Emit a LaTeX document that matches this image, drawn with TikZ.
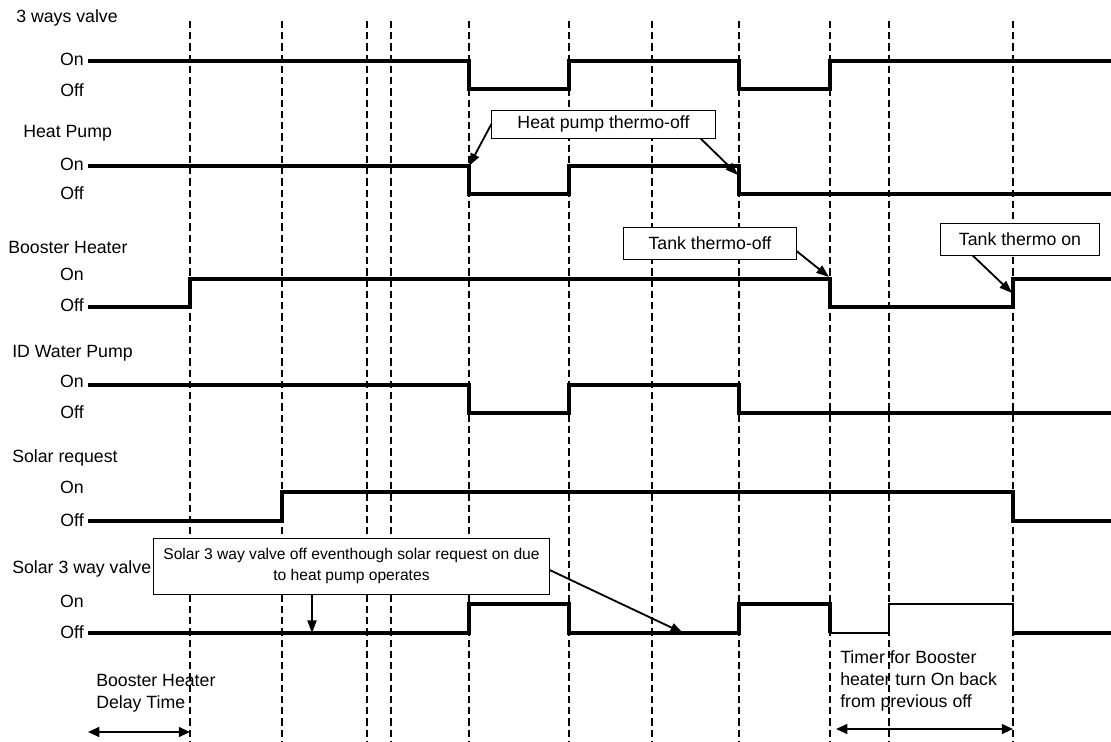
\documentclass[tikz,border=0pt]{standalone}
\usepackage{fontspec}
\setmainfont{Liberation Sans}
\usetikzlibrary{arrows.meta}

\begin{document}
\begin{tikzpicture}[
      x=0.025cm, y=-0.025cm,
      font=\fontsize{12.6}{15.5}\selectfont,
      sig/.style={line width=2.8pt},
      weaksig/.style={line width=1.5pt},
      vline/.style={dash pattern=on 5pt off 3pt, line width=0.8pt},
      title/.style={anchor=base west, inner sep=0pt},
      lvl/.style={anchor=east, inner sep=0pt},
      note/.style={draw, line width=0.7pt, fill=white, inner sep=0pt, align=center},
      txt/.style={anchor=west, inner sep=0pt, align=left},
      arr/.style={-{Triangle[length=9pt,width=6.5pt]}, line width=1.3pt},
      darr/.style={{Triangle[length=8pt,width=7pt]}-{Triangle[length=8pt,width=7pt]}, line width=1.4pt}
    ]
    \useasboundingbox (0,0) rectangle (1111,742);
    % Time marks
    \foreach \t in {190,282,367,391,469,569,652,739,830,889,1013}
      \draw[vline] (\t,21) -- (\t,742);
    % Row titles
    \node[title] (valve)   at (16,23)  {3 ways valve};
    \node[title] (hpump)   at (23,137) {Heat Pump};
    \node[title] (booster) at (8,253)  {Booster Heater};
    \node[title] (idpump)  at (12,357) {ID Water Pump};
    \node[title] (solreq)  at (12,462) {Solar request};
    \node[title] (solvalve)at (12,573) {Solar 3 way valve};
    % On / Off levels
    \foreach \r/\yon/\yoff in {1/59/90, 2/164/193, 3/274/305, 4/381/412, 5/487/520, 6/601/632}{
      \node[lvl] (on\r)  at (84,\yon)  {On};
      \node[lvl] (off\r) at (84,\yoff) {Off};
    }
    % Signals
    \draw[sig] (88,61) -- (469,61) -- (469,89) -- (569,89) -- (569,61) -- (739,61)
      -- (739,89) -- (830,89) -- (830,61) -- (1111,61);
    \draw[sig] (88,166) -- (469,166) -- (469,194) -- (569,194) -- (569,166) -- (739,166)
      -- (739,194) -- (1111,194);
    \draw[sig] (88,307) -- (190,307) -- (190,279) -- (830,279) -- (830,307) -- (1013,307)
      -- (1013,279) -- (1111,279);
    \draw[sig] (88,385) -- (469,385) -- (469,413) -- (569,413) -- (569,385) -- (739,385)
      -- (739,413) -- (1111,413);
    \draw[sig] (88,521) -- (282,521) -- (282,492) -- (1013,492) -- (1013,521) -- (1111,521);
    \draw[sig] (88,633) -- (469,633) -- (469,604) -- (569,604) -- (569,633) -- (739,633)
      -- (739,604) -- (830,604) -- (830,633);
    \draw[weaksig] (830,633) -- (889,633) -- (889,604) -- (1013,604) -- (1013,633);
    \draw[sig] (1013,633) -- (1111,633);
    % Notes
    \node[note, minimum width=5.58cm, minimum height=0.7cm] (hpnote) at (603.5,124) {Heat pump thermo-off};
    \node[note, minimum width=4.3cm, minimum height=0.8cm] (tankoff) at (710,243) {Tank thermo-off};
    \node[note, minimum width=3.95cm, minimum height=0.78cm] (tankon) at (1020,239.5) {Tank thermo on};
    \node[note, minimum width=9.88cm, minimum height=1.4cm, font=\fontsize{11.1}{15}\selectfont]
      (solarnote) at (351.5,566)
      {Solar 3 way valve off eventhough solar request on due\\to heat pump operates};
    \node[txt] (delay) at (96,693) {Booster Heater\\Delay Time};
    \node[txt] (timer) at (840,681) {Timer for Booster\\heater turn On back\\from previous off};
    % Arrow ends
    \coordinate (hpfall)   at (469,166);
    \coordinate (hpfall2)  at (738,175);
    \coordinate (bhfall)   at (829,277);
    \coordinate (bhrise)   at (1012,293);
    \coordinate (svlow)    at (312,633);
    \coordinate (svlow2)   at (683,633);
    \coordinate (delayl)   at (88,732);
    \coordinate (delayr)   at (190,732);
    \coordinate (timerl)   at (836,729);
    \coordinate (timerr)   at (1013,729);
    % Arrows
    \draw[arr] (hpnote.west) -- (hpfall);
    \draw[arr] ([xshift=-0.375cm]hpnote.south east) -- (hpfall2);
    \draw[arr] ([yshift=-0.2cm]tankoff.east) -- (bhfall);
    \draw[arr] ([xshift=-1.18cm]tankon.south) -- (bhrise);
    \draw[arr] (solarnote.south -| svlow) -- (svlow);
    \draw[arr] ([yshift=-0.1cm]solarnote.east) -- (svlow2);
    \draw[darr] (delayl) -- (delayr);
    \draw[darr] (timerl) -- (timerr);
\end{tikzpicture}
\end{document}
